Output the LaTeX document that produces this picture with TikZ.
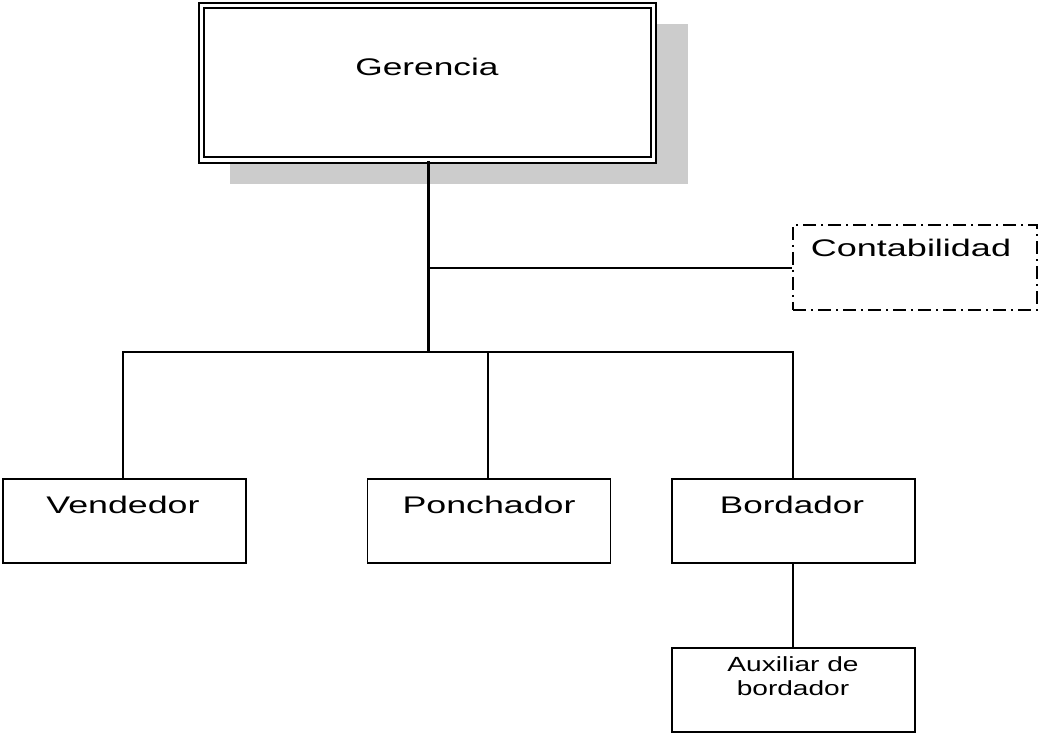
\documentclass[tikz,border=0pt]{standalone}
\usepackage{fontspec}
\setmainfont{Liberation Sans}
\usepackage{graphicx}
\begin{document}
\begin{tikzpicture}[x=1pt,y=-1pt,
  box/.style={draw, line width=1.9pt, inner sep=0pt, minimum width=243pt, minimum height=84pt, fill=white},
  lab/.style={anchor=base, inner sep=0pt, font=\fontsize{24}{28}\selectfont},
  conn/.style={line width=1.9pt},
  trunk/.style={line width=3pt}]
\useasboundingbox (0,0) rectangle (1039,735);
% shadow
\fill[gray!40] (230,24) rectangle (688,184);
% Gerencia
\node[draw, double, double distance=3.8pt, line width=1.7pt, inner sep=0pt, minimum width=452pt, minimum height=154.5pt, fill=white] (ger) at (427.5,82.75) {};
\node[lab] (gert) at (427,76) {\scalebox{1.47}[1]{Gerencia}};
% Contabilidad
\node[draw, line width=1.8pt, dash pattern=on 13pt off 5pt on 2pt off 5pt, inner sep=0pt, minimum width=244pt, minimum height=85pt] (cont) at (915,267.5) {};
\node[lab] (contt) at (911,257) {\scalebox{1.5}[1]{Contabilidad}};
% Level boxes
\node[box] (vend) at (124.5,521) {};
\node[lab] (vendt) at (123,513) {\scalebox{1.49}[1]{Vendedor}};
\node[box] (ponc) at (489,521) {};
\node[lab] (ponct) at (489,513) {\scalebox{1.49}[1]{Ponchador}};
\node[box] (bord) at (793.5,521) {};
\node[lab] (bordt) at (792,513) {\scalebox{1.46}[1]{Bordador}};
\node[box] (aux) at (793.5,690) {};
\node[lab, font=\fontsize{20.5}{24}\selectfont] (auxt1) at (793,671) {\scalebox{1.37}[1]{Auxiliar de}};
\node[lab, font=\fontsize{20.5}{24}\selectfont] (auxt2) at (793,695) {\scalebox{1.37}[1]{bordador}};
% connectors
\coordinate (j1) at (428,268);
\coordinate (j2) at (428,352);
\coordinate (bl) at (123,352);
\coordinate (bm) at (488,352);
\coordinate (br) at (793,352);
\draw[trunk] (ger.south -| j1) -- (j2);
\draw[conn] (j1) -- (cont.west |- j1);
\draw[conn, line cap=rect] (bl) -- (br);
\draw[conn] (bl) -- (bl |- vend.north);
\draw[conn] (bm) -- (bm |- ponc.north);
\draw[conn] (br) -- (br |- bord.north);
\draw[conn] (bord.south -| br) -- (br |- aux.north);
\end{tikzpicture}
\end{document}
